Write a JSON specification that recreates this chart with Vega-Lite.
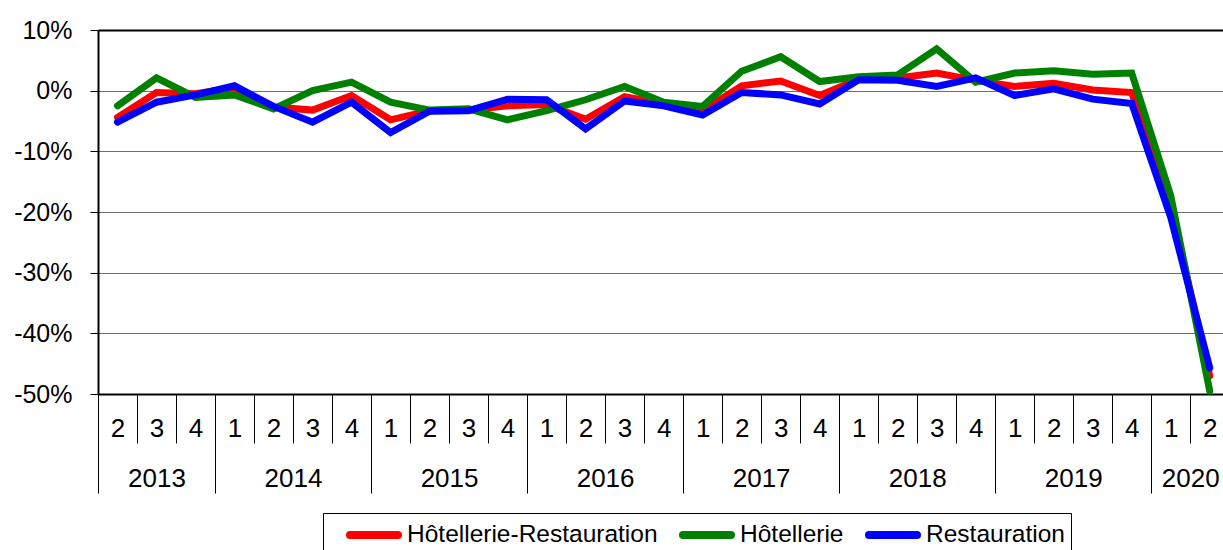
{
  "$schema": "https://vega.github.io/schema/vega-lite/v6.json",
  "width": 1125,
  "height": 364,
  "autosize": {"type": "none"},
  "padding": {"left": 98, "top": 30, "right": 0, "bottom": 156},
  "background": "white",
  "config": {
    "view": {"stroke": null},
    "font": "Liberation Sans",
    "axis": {"labelFont": "Liberation Sans", "labelFontSize": 25, "labelColor": "black", "domainColor": "black", "domainWidth": 2, "tickColor": "black", "labelOverlap": false, "labelFlush": false, "labelBound": false, "title": null}
  },
  "datasets": {
    "series": [
      {"periode": "2013 T2", "idx": 0, "serie": "Hôtellerie-Restauration", "valeur": -4.4},
      {"periode": "2013 T3", "idx": 1, "serie": "Hôtellerie-Restauration", "valeur": -0.3},
      {"periode": "2013 T4", "idx": 2, "serie": "Hôtellerie-Restauration", "valeur": -0.5},
      {"periode": "2014 T1", "idx": 3, "serie": "Hôtellerie-Restauration", "valeur": 0.5},
      {"periode": "2014 T2", "idx": 4, "serie": "Hôtellerie-Restauration", "valeur": -2.7},
      {"periode": "2014 T3", "idx": 5, "serie": "Hôtellerie-Restauration", "valeur": -3.2},
      {"periode": "2014 T4", "idx": 6, "serie": "Hôtellerie-Restauration", "valeur": -0.8},
      {"periode": "2015 T1", "idx": 7, "serie": "Hôtellerie-Restauration", "valeur": -4.8},
      {"periode": "2015 T2", "idx": 8, "serie": "Hôtellerie-Restauration", "valeur": -3.3},
      {"periode": "2015 T3", "idx": 9, "serie": "Hôtellerie-Restauration", "valeur": -3.2},
      {"periode": "2015 T4", "idx": 10, "serie": "Hôtellerie-Restauration", "valeur": -2.5},
      {"periode": "2016 T1", "idx": 11, "serie": "Hôtellerie-Restauration", "valeur": -2.3},
      {"periode": "2016 T2", "idx": 12, "serie": "Hôtellerie-Restauration", "valeur": -4.7},
      {"periode": "2016 T3", "idx": 13, "serie": "Hôtellerie-Restauration", "valeur": -1.0},
      {"periode": "2016 T4", "idx": 14, "serie": "Hôtellerie-Restauration", "valeur": -2.2},
      {"periode": "2017 T1", "idx": 15, "serie": "Hôtellerie-Restauration", "valeur": -3.3},
      {"periode": "2017 T2", "idx": 16, "serie": "Hôtellerie-Restauration", "valeur": 0.8},
      {"periode": "2017 T3", "idx": 17, "serie": "Hôtellerie-Restauration", "valeur": 1.6},
      {"periode": "2017 T4", "idx": 18, "serie": "Hôtellerie-Restauration", "valeur": -0.8},
      {"periode": "2018 T1", "idx": 19, "serie": "Hôtellerie-Restauration", "valeur": 1.9},
      {"periode": "2018 T2", "idx": 20, "serie": "Hôtellerie-Restauration", "valeur": 2.1},
      {"periode": "2018 T3", "idx": 21, "serie": "Hôtellerie-Restauration", "valeur": 2.9},
      {"periode": "2018 T4", "idx": 22, "serie": "Hôtellerie-Restauration", "valeur": 1.7},
      {"periode": "2019 T1", "idx": 23, "serie": "Hôtellerie-Restauration", "valeur": 0.7},
      {"periode": "2019 T2", "idx": 24, "serie": "Hôtellerie-Restauration", "valeur": 1.2},
      {"periode": "2019 T3", "idx": 25, "serie": "Hôtellerie-Restauration", "valeur": 0.1},
      {"periode": "2019 T4", "idx": 26, "serie": "Hôtellerie-Restauration", "valeur": -0.3},
      {"periode": "2020 T1", "idx": 27, "serie": "Hôtellerie-Restauration", "valeur": -19.0},
      {"periode": "2020 T2", "idx": 28, "serie": "Hôtellerie-Restauration", "valeur": -47.0},
      {"periode": "2013 T2", "idx": 0, "serie": "Hôtellerie", "valeur": -2.5},
      {"periode": "2013 T3", "idx": 1, "serie": "Hôtellerie", "valeur": 2.1},
      {"periode": "2013 T4", "idx": 2, "serie": "Hôtellerie", "valeur": -1.1},
      {"periode": "2014 T1", "idx": 3, "serie": "Hôtellerie", "valeur": -0.7},
      {"periode": "2014 T2", "idx": 4, "serie": "Hôtellerie", "valeur": -3.0},
      {"periode": "2014 T3", "idx": 5, "serie": "Hôtellerie", "valeur": 0.0},
      {"periode": "2014 T4", "idx": 6, "serie": "Hôtellerie", "valeur": 1.4},
      {"periode": "2015 T1", "idx": 7, "serie": "Hôtellerie", "valeur": -1.9},
      {"periode": "2015 T2", "idx": 8, "serie": "Hôtellerie", "valeur": -3.2},
      {"periode": "2015 T3", "idx": 9, "serie": "Hôtellerie", "valeur": -3.0},
      {"periode": "2015 T4", "idx": 10, "serie": "Hôtellerie", "valeur": -4.8},
      {"periode": "2016 T1", "idx": 11, "serie": "Hôtellerie", "valeur": -3.3},
      {"periode": "2016 T2", "idx": 12, "serie": "Hôtellerie", "valeur": -1.5},
      {"periode": "2016 T3", "idx": 13, "serie": "Hôtellerie", "valeur": 0.7},
      {"periode": "2016 T4", "idx": 14, "serie": "Hôtellerie", "valeur": -1.9},
      {"periode": "2017 T1", "idx": 15, "serie": "Hôtellerie", "valeur": -2.6},
      {"periode": "2017 T2", "idx": 16, "serie": "Hôtellerie", "valeur": 3.2},
      {"periode": "2017 T3", "idx": 17, "serie": "Hôtellerie", "valeur": 5.6},
      {"periode": "2017 T4", "idx": 18, "serie": "Hôtellerie", "valeur": 1.5},
      {"periode": "2018 T1", "idx": 19, "serie": "Hôtellerie", "valeur": 2.3},
      {"periode": "2018 T2", "idx": 20, "serie": "Hôtellerie", "valeur": 2.6},
      {"periode": "2018 T3", "idx": 21, "serie": "Hôtellerie", "valeur": 6.9},
      {"periode": "2018 T4", "idx": 22, "serie": "Hôtellerie", "valeur": 1.4},
      {"periode": "2019 T1", "idx": 23, "serie": "Hôtellerie", "valeur": 2.9},
      {"periode": "2019 T2", "idx": 24, "serie": "Hôtellerie", "valeur": 3.3},
      {"periode": "2019 T3", "idx": 25, "serie": "Hôtellerie", "valeur": 2.7},
      {"periode": "2019 T4", "idx": 26, "serie": "Hôtellerie", "valeur": 2.9},
      {"periode": "2020 T1", "idx": 27, "serie": "Hôtellerie", "valeur": -17.3},
      {"periode": "2020 T2", "idx": 28, "serie": "Hôtellerie", "valeur": -49.5},
      {"periode": "2013 T2", "idx": 0, "serie": "Restauration", "valeur": -5.2},
      {"periode": "2013 T3", "idx": 1, "serie": "Restauration", "valeur": -1.9},
      {"periode": "2013 T4", "idx": 2, "serie": "Restauration", "valeur": -0.7},
      {"periode": "2014 T1", "idx": 3, "serie": "Restauration", "valeur": 0.8},
      {"periode": "2014 T2", "idx": 4, "serie": "Restauration", "valeur": -2.6},
      {"periode": "2014 T3", "idx": 5, "serie": "Restauration", "valeur": -5.2},
      {"periode": "2014 T4", "idx": 6, "serie": "Restauration", "valeur": -1.9},
      {"periode": "2015 T1", "idx": 7, "serie": "Restauration", "valeur": -6.9},
      {"periode": "2015 T2", "idx": 8, "serie": "Restauration", "valeur": -3.4},
      {"periode": "2015 T3", "idx": 9, "serie": "Restauration", "valeur": -3.3},
      {"periode": "2015 T4", "idx": 10, "serie": "Restauration", "valeur": -1.4},
      {"periode": "2016 T1", "idx": 11, "serie": "Restauration", "valeur": -1.5},
      {"periode": "2016 T2", "idx": 12, "serie": "Restauration", "valeur": -6.3},
      {"periode": "2016 T3", "idx": 13, "serie": "Restauration", "valeur": -1.7},
      {"periode": "2016 T4", "idx": 14, "serie": "Restauration", "valeur": -2.5},
      {"periode": "2017 T1", "idx": 15, "serie": "Restauration", "valeur": -4.0},
      {"periode": "2017 T2", "idx": 16, "serie": "Restauration", "valeur": -0.3},
      {"periode": "2017 T3", "idx": 17, "serie": "Restauration", "valeur": -0.7},
      {"periode": "2017 T4", "idx": 18, "serie": "Restauration", "valeur": -2.2},
      {"periode": "2018 T1", "idx": 19, "serie": "Restauration", "valeur": 1.8},
      {"periode": "2018 T2", "idx": 20, "serie": "Restauration", "valeur": 1.7},
      {"periode": "2018 T3", "idx": 21, "serie": "Restauration", "valeur": 0.7},
      {"periode": "2018 T4", "idx": 22, "serie": "Restauration", "valeur": 2.1},
      {"periode": "2019 T1", "idx": 23, "serie": "Restauration", "valeur": -0.8},
      {"periode": "2019 T2", "idx": 24, "serie": "Restauration", "valeur": 0.3},
      {"periode": "2019 T3", "idx": 25, "serie": "Restauration", "valeur": -1.4},
      {"periode": "2019 T4", "idx": 26, "serie": "Restauration", "valeur": -2.1},
      {"periode": "2020 T1", "idx": 27, "serie": "Restauration", "valeur": -20.9},
      {"periode": "2020 T2", "idx": 28, "serie": "Restauration", "valeur": -45.7}
    ]
  },
  "data": {"name": "series"},
  "layer": [
    {
      "mark": {"type": "line", "strokeWidth": 7, "strokeCap": "round"},
      "encoding": {
        "x": {
          "field": "idx", "type": "quantitative",
          "scale": {"domain": [-0.5, 28.34], "nice": false, "zero": false},
          "axis": {
            "orient": "bottom",
            "values": [-0.5, 0.5, 1.5, 2.5, 3.5, 4.5, 5.5, 6.5, 7.5, 8.5, 9.5, 10.5, 11.5, 12.5, 13.5, 14.5, 15.5, 16.5, 17.5, 18.5, 19.5, 20.5, 21.5, 22.5, 23.5, 24.5, 25.5, 26.5, 27.5],
            "labelExpr": "((datum.value + 1.5) % 4) + 1",
            "labelFontSize": 26,
            "tickSize": 49, "tickWidth": 1,
            "labelPadding": -28, "labelOffset": 19.5, "labelAlign": "center",
            "grid": false
          }
        },
        "y": {
          "field": "valeur", "type": "quantitative",
          "scale": {"domain": [-50, 10], "nice": false},
          "axis": {
            "values": [-50, -40, -30, -20, -10, 0, 10],
            "labelExpr": "datum.value + '%'",
            "tickSize": 8, "labelPadding": 18,
            "grid": true,
            "gridColor": {"condition": {"test": "datum.value == 10", "value": "black"}, "value": "#6e6e6e"},
            "gridWidth": {"condition": {"test": "datum.value == 10", "value": 2}, "value": 1}
          }
        },
        "color": {
          "field": "serie", "type": "nominal",
          "scale": {"domain": ["Hôtellerie-Restauration", "Hôtellerie", "Restauration"], "range": ["#FF0000", "#008000", "#0000FF"]},
          "legend": {
            "orient": "none", "legendX": 225, "legendY": 483,
            "direction": "horizontal", "title": null,
            "symbolType": "M-2,0H2", "symbolStrokeWidth": 8, "symbolSize": 576,
            "symbolFillColor": "transparent",
            "labelFontSize": 24.5, "labelFont": "Liberation Sans", "labelColor": "black", "labelLimit": 500,
            "strokeColor": "black", "padding": 6, "symbolOffset": 29,
            "labelOffset": 17, "columnPadding": 4,
            "encode": {"symbols": {"update": {"strokeCap": {"value": "round"}}}}
          }
        }
      }
    },
    {
      "mark": {"type": "point", "opacity": 0},
      "encoding": {
        "x": {
          "field": "idx", "type": "quantitative",
          "scale": {"domain": [-0.5, 28.34], "nice": false, "zero": false},
          "axis": {
            "orient": "bottom",
            "values": [-0.5, 2.5, 6.5, 10.5, 14.5, 18.5, 22.5, 26.5],
            "tickSize": 99, "tickWidth": 1, "labels": false, "domain": false, "grid": false
          }
        }
      }
    },
    {
      "mark": {"type": "point", "opacity": 0},
      "encoding": {
        "x": {
          "field": "idx", "type": "quantitative",
          "scale": {"domain": [-0.5, 28.34], "nice": false, "zero": false},
          "axis": {
            "orient": "bottom",
            "values": [1, 4.5, 8.5, 12.5, 16.5, 20.5, 24.5, 27.5],
            "labelExpr": "2013 + floor((datum.value + 1.5) / 4)",
            "labelFontSize": 26,
            "ticks": false, "domain": false, "labelPadding": 71, "grid": false
          }
        }
      }
    }
  ],
  "resolve": {"axis": {"x": "independent"}}
}
